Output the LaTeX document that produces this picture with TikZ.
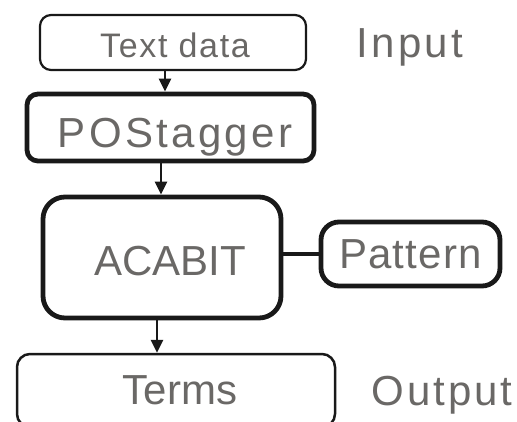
\documentclass[tikz,border=0pt]{standalone}
\usepackage{fontspec}
\setmainfont{Liberation Sans}
\usetikzlibrary{arrows.meta}
\definecolor{txtgray}{RGB}{106,104,102}
\tikzset{
  box/.style={draw=black!90, rounded corners=#1, inner sep=0pt, text=txtgray,
    text height=30pt, text depth=0pt, align=center},
  thinbox/.style={box=#1, line width=2.2pt},
  thickbox/.style={box=#1, line width=4.8pt},
  side/.style={text=txtgray, inner sep=0pt, text height=30pt, text depth=0pt},
  arr/.style={line width=2.8pt, draw=black!90, -{Triangle[length=13pt,width=12pt]}},
  link/.style={line width=4.8pt, draw=black!90}
}
\begin{document}
\begin{tikzpicture}[x=1pt,y=-1pt]
\useasboundingbox (0,0) rectangle (517,421);
\clip (0,0) rectangle (517,421);
\node[thinbox=11pt, minimum width=266pt, minimum height=55pt, text height=29pt,
  font={\fontsize{34}{34}\selectfont\addfontfeature{LetterSpace=5}}] (txt) at (173,42.5) {\hspace*{4pt}Text data};
\node[side, font={\fontsize{42}{42}\selectfont\addfontfeature{LetterSpace=8}}] (inp) at (410,42.5) {Input};
\node[thickbox=11pt, minimum width=287pt, minimum height=67pt, text height=39pt,
  font={\fontsize{42}{42}\selectfont\addfontfeature{LetterSpace=8}}] (pos) at (170.5,127.5) {\hspace*{9pt}POStagger};
\node[thickbox=22pt, minimum width=238pt, minimum height=121pt, text height=35pt,
  font={\fontsize{42}{42}\selectfont}] (aca) at (162,257.5) {\hspace*{16pt}ACABIT};
\node[thickbox=18pt, minimum width=179pt, minimum height=64pt, text height=28pt,
  font={\fontsize{42}{42}\selectfont\addfontfeature{LetterSpace=3}}] (pat) at (410.5,254) {Pattern};
\node[thinbox=13pt, line width=2.5pt, minimum width=318pt, minimum height=73pt, text height=27pt,
  font={\fontsize{42}{42}\selectfont}] (trm) at (176,390.5) {\hspace*{8pt}Terms};
\node[side, font={\fontsize{42}{42}\selectfont\addfontfeature{LetterSpace=7}}] (out) at (442,390) {Output};
\draw[arr] ([xshift=-8pt]txt.south) -- ([xshift=-8pt]txt.south |- pos.north);
\draw[arr] ([xshift=-9.5pt]pos.south) -- ([xshift=-9.5pt]pos.south |- aca.north);
\draw[arr] ([xshift=-5pt]aca.south) -- ([xshift=-5pt]aca.south |- trm.north);
\draw[link] (aca.east |- pat.west) -- (pat.west);
\end{tikzpicture}
\end{document}
